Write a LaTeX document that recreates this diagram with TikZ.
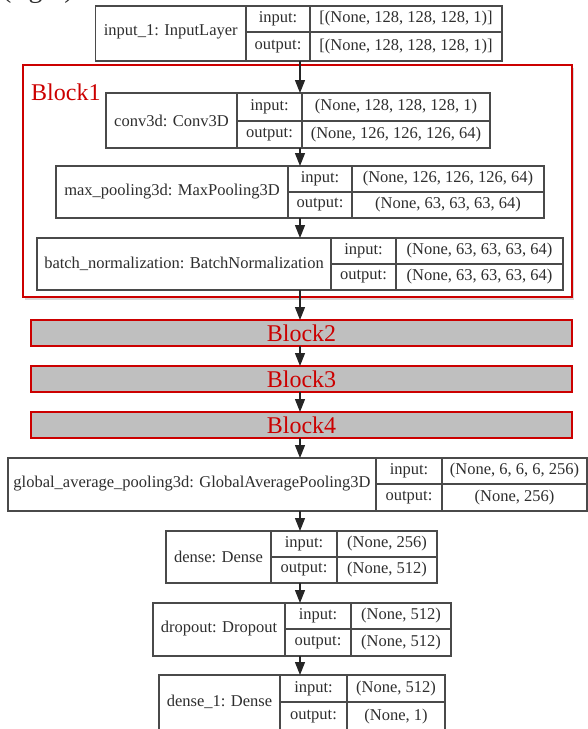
\documentclass[tikz,border=0pt]{standalone}
\usepackage{fontspec}
\setmainfont{Liberation Serif}
\usepackage{tikz}
\usepackage{xcolor}
\usetikzlibrary{
  positioning, arrows.meta, shadows,
}
\definecolor{blockRed} {HTML}{CC0000}
\definecolor{blockFill}{HTML}{BFBFBF}
\definecolor{cLine}    {HTML}{4A4A4A}
\definecolor{cText}    {HTML}{2E2E2E}

\begin{document}
\begin{tikzpicture}[x=1pt, y=-1pt,
    layerbox/.style={draw=cLine, line width=1.1pt, inner sep=0pt, outer sep=0pt},
    cell/.style={font=\fontsize{16.5}{18}\selectfont, text=cText, inner sep=0pt},
    blockbar/.style={draw=blockRed, line width=2pt, fill=blockFill, inner sep=0pt,
                     outer sep=0pt, font=\fontsize{24}{26}\selectfont, text=blockRed},
    arr/.style={-{Triangle[length=13pt, width=10pt]}, line width=1.1pt, draw=black!85},
  ]
  \useasboundingbox (0,0) rectangle (588,729);
  \node[font=\fontsize{28}{30}\selectfont, text=cText, anchor=base west, inner sep=0pt]
    (cap) at (2,-3) {(right)};

  % block 1 frame
  \node[draw=blockRed, line width=2pt, fill=white, inner sep=0pt,
        drop shadow={opacity=0.3, shadow xshift=1.5pt, shadow yshift=-2.5pt},
        minimum width=549pt, minimum height=232pt] (blk1) at (297.5,181) {};
  \node[font=\fontsize{24}{26}\selectfont, text=blockRed, anchor=base west, inner sep=0pt]
    (blk1-lbl) at (31,100) {Block1};

  % layer tables
  \foreach \id/\xl/\xn/\xv/\xr/\yt/\ym/\yb/\ttl/\vin/\vout in {
      inp/95.5/246/310/502/6/32/61/{input\_1: InputLayer}/{[(None, 128, 128, 128, 1)]}/{[(None, 128, 128, 128, 1)]},
      conv/106/237/302/490/93/121/148/{conv3d: Conv3D}/{(None, 128, 128, 128, 1)}/{(None, 126, 126, 126, 64)},
      maxp/56/288/352/544/166/192/218/{max\_pooling3d: MaxPooling3D}/{(None, 126, 126, 126, 64)}/{(None, 63, 63, 63, 64)},
      bn/37/331/396/563/238/264/290/{batch\_normalization: BatchNormalization}/{(None, 63, 63, 63, 64)}/{(None, 63, 63, 63, 64)},
      gap/8/376/442/587/458/484/511/{global\_average\_pooling3d: GlobalAveragePooling3D}/{(None, 6, 6, 6, 256)}/{(None, 256)},
      dns/166/271/337/437/531/557/583/{dense: Dense}/{(None, 256)}/{(None, 512)},
      drop/153/285/351/451/603/629/656/{dropout: Dropout}/{(None, 512)}/{(None, 512)},
      dns1/159/280/347/445/675/702/731/{dense\_1: Dense}/{(None, 512)}/{(None, 1)}}{
    \node[layerbox, minimum width={(\xr-\xl)*1pt}, minimum height={(\yb-\yt)*1pt}]
      (\id) at ({(\xl+\xr)/2},{(\yt+\yb)/2}) {};
    \draw[draw=cLine, line width=1.1pt] (\xn,\yt) -- (\xn,\yb) (\xv,\yt) -- (\xv,\yb)
      (\xn,\ym) -- (\xr,\ym);
    \node[cell] (\id-n)  at ({(\xl+\xn)/2},\ym) {\ttl};
    \node[cell] (\id-il) at ({(\xn+\xv)/2},{(\yt+\ym)/2}) {input:};
    \node[cell] (\id-iv) at ({(\xv+\xr)/2},{(\yt+\ym)/2}) {\vin};
    \node[cell] (\id-ol) at ({(\xn+\xv)/2},{(\ym+\yb)/2}) {output:};
    \node[cell] (\id-ov) at ({(\xv+\xr)/2},{(\ym+\yb)/2}) {\vout};
  }

  % collapsed blocks
  \foreach \id/\yt/\yb/\lbl in {blk2/320/346/Block2, blk3/366/392/Block3, blk4/412/438/Block4}
    \node[blockbar, minimum width=541pt, minimum height={(\yb-\yt)*1pt}]
      (\id) at (301.5,{(\yt+\yb)/2}) {\lbl};

  \coordinate (mid) at (300,0);
  \foreach \a/\b in {inp/conv, conv/maxp, maxp/bn, bn/blk2, blk2/blk3, blk3/blk4,
                     blk4/gap, gap/dns, dns/drop, drop/dns1}
    \draw[arr] (\a.south -| mid) -- (\b.north -| mid);
\end{tikzpicture}
\end{document}
